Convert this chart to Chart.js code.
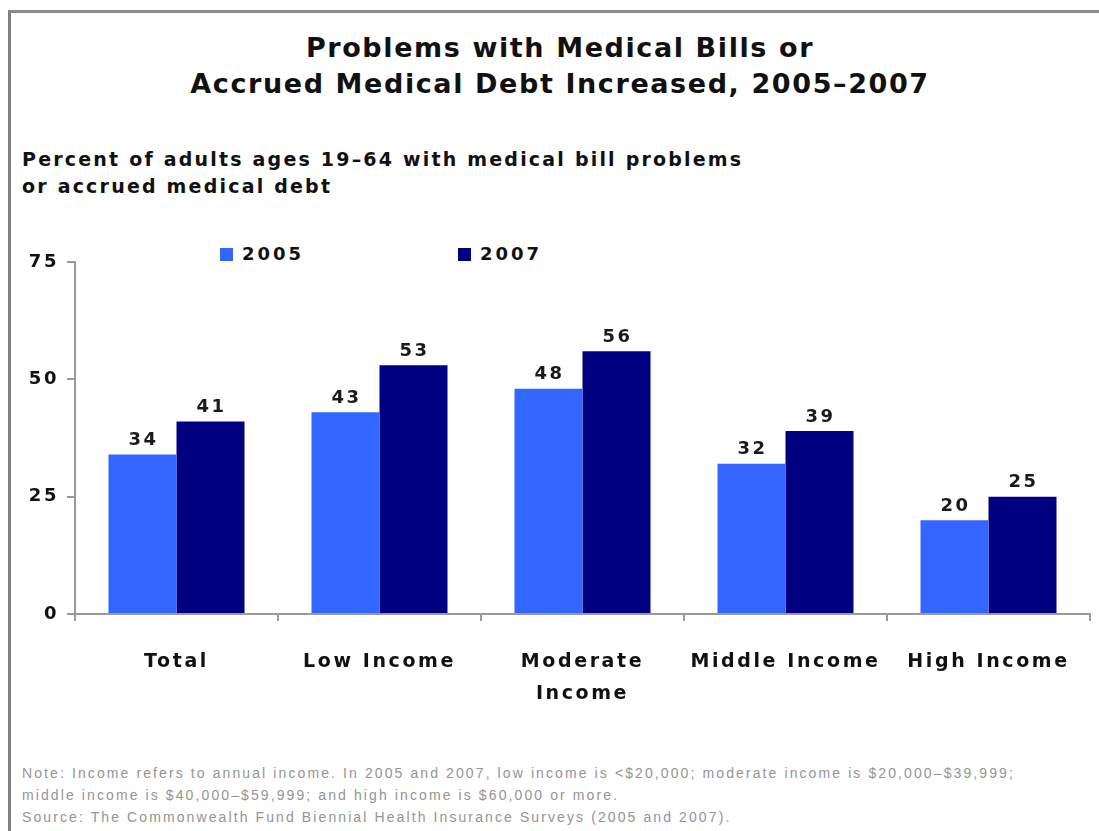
<!DOCTYPE html>
<html><head><meta charset="utf-8">
<script src="https://cdn.jsdelivr.net/npm/chart.js@4.4.1/dist/chart.umd.min.js"></script>
<style>
html,body{margin:0;padding:0;background:#fff;}
body{width:1099px;height:831px;position:relative;overflow:hidden;font-family:"DejaVu Sans",sans-serif;}
#frame{position:absolute;left:8px;top:10px;width:1100px;height:830px;border-left:3px solid #808080;border-top:3px solid #8c8c8c;}
#title{position:absolute;left:0;top:30px;width:1120px;text-align:center;font-weight:bold;font-size:27px;line-height:36px;letter-spacing:1.6px;color:#111;white-space:nowrap;}
#subtitle{position:absolute;left:22px;top:146px;font-weight:bold;font-size:19px;line-height:27px;letter-spacing:2.2px;color:#111;white-space:nowrap;}
#legend{position:absolute;left:0;top:242px;height:24px;width:700px;font-weight:bold;font-size:18px;letter-spacing:3px;color:#111;}
.lg{position:absolute;top:0;line-height:24px;white-space:nowrap;}
.sw{display:inline-block;width:13px;height:13px;vertical-align:-1px;margin-right:9px;}
#note{position:absolute;left:22px;top:762px;font-family:"Liberation Sans",sans-serif;font-size:14px;line-height:22px;letter-spacing:2.1px;color:#949494;white-space:nowrap;}
#wrap{position:absolute;left:0;top:230px;width:1099px;height:500px;}
</style></head>
<body>
<div id="frame"></div>
<div id="title">Problems with Medical Bills or<br>Accrued Medical Debt Increased, 2005–2007</div>
<div id="subtitle">Percent of adults ages 19–64 with medical bill problems<br>or accrued medical debt</div>
<div id="legend"></div>
<div id="wrap"><canvas id="c" width="1099" height="500"></canvas></div>
<div id="note">Note: Income refers to annual income. In 2005 and 2007, low income is &lt;$20,000; moderate income is $20,000–$39,999;<br>middle income is $40,000–$59,999; and high income is $60,000 or more.<br>Source: The Commonwealth Fund Biennial Health Insurance Surveys (2005 and 2007).</div>
<script>
const categories = ['Total', 'Low Income', ['Moderate', 'Income'], 'Middle Income', 'High Income'];
const seriesNames = ['2005', '2007'];
const values2005 = [34, 43, 48, 32, 20];
const values2007 = [41, 53, 56, 39, 25];
const yTicks = [0, 25, 50, 75];
const colors = ['#3366ff', '#000080'];

// HTML legend
const legendPos = [220, 458];
const legend = document.getElementById('legend');
seriesNames.forEach((n, i) => {
  const d = document.createElement('div');
  d.className = 'lg';
  d.style.left = legendPos[i] + 'px';
  d.innerHTML = '<span class="sw" style="background:' + colors[i] + '"></span>' + n;
  legend.appendChild(d);
});

const FONT = '"DejaVu Sans", sans-serif';
const spacing = {
  id: 'spacing',
  beforeLayout(c) { c.ctx.letterSpacing = '2.6px'; },
  beforeDraw(c) { c.ctx.letterSpacing = '2.6px'; }
};
const valueLabels = {
  id: 'valueLabels',
  afterDatasetsDraw(chart) {
    const ctx = chart.ctx;
    ctx.save();
    ctx.font = 'bold 18px ' + FONT;
    ctx.letterSpacing = '2.5px';
    ctx.fillStyle = '#1a1a1a';
    ctx.textAlign = 'center';
    ctx.textBaseline = 'bottom';
    chart.data.datasets.forEach((ds, i) => {
      chart.getDatasetMeta(i).data.forEach((bar, j) => {
        ctx.fillText(String(ds.data[j]), bar.x + 1, bar.y - 5);
      });
    });
    ctx.restore();
  }
};

new Chart(document.getElementById('c'), {
  type: 'bar',
  data: {
    labels: categories,
    datasets: [
      { label: seriesNames[0], data: values2005, backgroundColor: colors[0], borderWidth: 0 },
      { label: seriesNames[1], data: values2007, backgroundColor: colors[1], borderWidth: 0 }
    ]
  },
  options: {
    responsive: false,
    animation: false,
    devicePixelRatio: 1,
    layout: { padding: { top: 32, right: 9, left: 0, bottom: 0 } },
    datasets: { bar: { categoryPercentage: 0.67, barPercentage: 1.0 } },
    plugins: { legend: { display: false }, tooltip: { enabled: false }, title: { display: false } },
    scales: {
      x: {
        grid: { offset: true, drawOnChartArea: false, drawTicks: true, tickLength: 7, color: '#9a9a9a', lineWidth: 2 },
        border: { color: '#9a9a9a', width: 2 },
        ticks: { font: { family: FONT, size: 19, weight: 'bold', lineHeight: 1.68 }, color: '#111', padding: 25, maxRotation: 0, autoSkip: false },
        afterFit(s) { s.height = 116; }
      },
      y: {
        min: 0, max: 75,
        afterBuildTicks(s) { s.ticks = yTicks.map(v => ({ value: v })); },
        grid: { drawOnChartArea: false, drawTicks: true, tickLength: 8, color: '#9a9a9a', lineWidth: 2 },
        border: { color: '#9a9a9a', width: 2 },
        ticks: { font: { family: FONT, size: 18, weight: 'bold' }, color: '#111', padding: 8 },
        afterFit(s) { s.width = 75; }
      }
    }
  },
  plugins: [spacing, valueLabels]
});
</script>
</body></html>
